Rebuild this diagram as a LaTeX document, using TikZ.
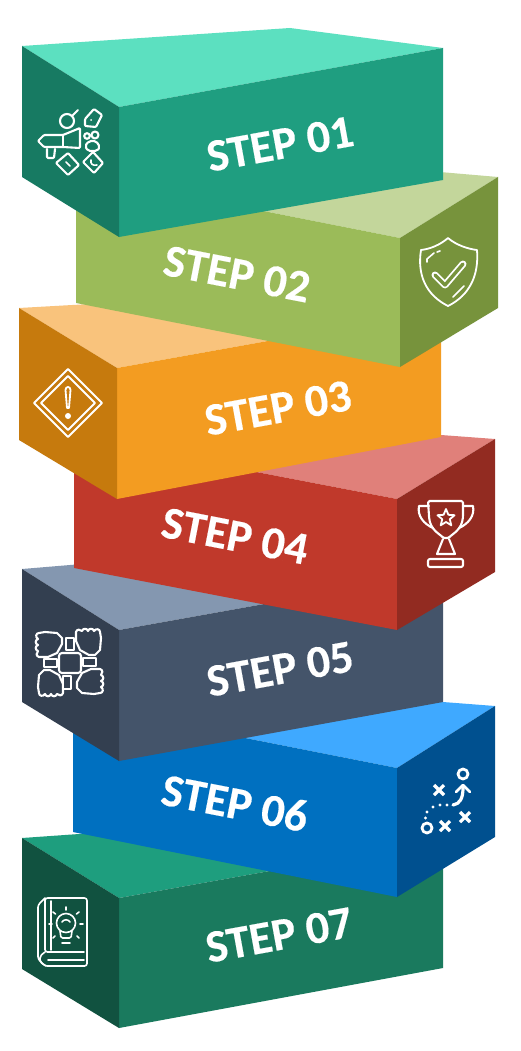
\documentclass[tikz,border=0pt]{standalone}
\usepackage{fontspec}
\setmainfont{Carlito}
\newfontfamily\stepfont[UprightFont={* Bold},FakeBold=0.35]{Carlito}
\definecolor{aF}{HTML}{1F9E80}\definecolor{aT}{HTML}{5CE0C0}\definecolor{aS}{HTML}{177A62}
\definecolor{bF}{HTML}{9BBB59}\definecolor{bT}{HTML}{C3D69B}\definecolor{bS}{HTML}{77933C}
\definecolor{cF}{HTML}{F39C21}\definecolor{cT}{HTML}{F9C37C}\definecolor{cS}{HTML}{C67A0D}
\definecolor{dF}{HTML}{C0392B}\definecolor{dT}{HTML}{E0807A}\definecolor{dS}{HTML}{922B21}
\definecolor{eF}{HTML}{44546A}\definecolor{eT}{HTML}{8497B0}\definecolor{eS}{HTML}{333F50}
\definecolor{fF}{HTML}{0070C0}\definecolor{fT}{HTML}{3FA9FF}\definecolor{fS}{HTML}{00508F}
\definecolor{gF}{HTML}{1A7A5E}\definecolor{gT}{HTML}{1E9E7E}\definecolor{gS}{HTML}{115240}
\tikzset{
  steplabel/.style={text=white,font=\fontsize{46}{46}\stepfont,inner sep=0pt},
  icon/.style={draw=white,line width=2.1pt,line join=round,line cap=round,fill=none},
  iconthin/.style={icon,line width=1.6pt}
}
\newcommand{\myfist}[3]{\begin{scope}[shift={(#1,#2)},rotate=#3]
  \draw[icon] (-5,-12) -- (7,-11) -- (12,-6) -- (12,0) -- (7,9) -- (-2,13) -- (-11,13)
     .. controls (-14,12) and (-14,9) .. (-12,7)
     .. controls (-15,6) and (-15,2) .. (-12,1)
     .. controls (-15,0) and (-15,-4) .. (-12,-5)
     .. controls (-15,-7) and (-14,-11) .. (-11,-11) -- cycle;
\end{scope}}
\newcommand{\mycross}[2]{\draw[icon,line width=3.2pt,line cap=butt] (#1-5,#2-5) -- (#1+5,#2+5) (#1-5,#2+5) -- (#1+5,#2-5);}
\begin{document}
\begin{tikzpicture}[x=1pt,y=-1pt]
\useasboundingbox (0,0) rectangle (521,1051);
\fill[white] (0,0) rectangle (521,1051);
% ---- box 7
\fill[gT] (22,838) -- (119,898) -- (443,840) -- (250,822) -- cycle;
\fill[gF] (119,898) -- (443,840) -- (443,968) -- (119,1028) -- cycle;
\fill[gS] (22,838) -- (119,898) -- (119,1028) -- (22,969) -- cycle;
\node[steplabel,rotate=10.3] (s7) at (279,935) {STEP 07};
\draw[iconthin,rounded corners=2.5pt] (84,952) -- (45,952) -- (45,898) -- (87,898) -- (87,966) -- (45,966) -- (38,959) -- (38,905) -- (45,898);
\draw[iconthin,rounded corners=2pt] (45,952) -- (40,956) -- (40,962) -- (46,966);
\draw[iconthin] (48,960) -- (84,960) (51,901) -- (51,950);
\draw[iconthin] (66,923) circle (9.5);
\draw[iconthin,rounded corners=1.5pt] (60,931) -- (61,938) -- (71,938) -- (72,931);
\draw[iconthin] (62,943) -- (70,943) (62,922) .. controls (64,919) and (68,919) .. (70,922);
\draw[iconthin] (66,907) -- (66,910) (53,912) -- (55.5,914) (79,912) -- (76.5,914) (49,924) -- (52,924) (83,924) -- (80,924) (55,936) -- (53,938) (77,936) -- (79,938);
% ---- box 6
\fill[fT] (73,704) -- (397,768) -- (495,706) -- (443,702) -- (300,690) -- cycle;
\fill[fF] (73,704) -- (397,768) -- (397,897) -- (73,832) -- cycle;
\fill[fS] (397,768) -- (495,706) -- (495,837) -- (397,897) -- cycle;
\node[steplabel,rotate=-11] (s6) at (235,803) {STEP 06};
\draw[icon,line width=2.8pt] (463,774) circle (5);
\draw[icon,line width=2.8pt] (427,828) circle (5);
\draw[icon,line width=3.2pt] (453,805) .. controls (460,804) and (463,798) .. (463,788);
\draw[icon,line width=2.8pt] (456,792) -- (463,785) -- (470,792);
\mycross{439}{790}\mycross{465}{817}\mycross{445}{826}
\foreach \px/\py in {447/805,440/805,433/807,427/812,425.5/818}{\fill[white] (\px,\py) circle (1.6);}
% ---- box 5
\fill[eT] (22,569) -- (119,630) -- (443,572) -- (250,550) -- cycle;
\fill[eF] (119,630) -- (443,572) -- (443,702) -- (119,761) -- cycle;
\fill[eS] (22,569) -- (119,630) -- (119,761) -- (22,702) -- cycle;
\node[steplabel,rotate=10.3] (s5) at (280,669) {STEP 05};
\myfist{50}{644}{0}
\myfist{89}{643}{-90}
\myfist{89}{682}{-180}
\myfist{50}{682}{-270}
\draw[iconthin,fill=eS] (66,638) rectangle (74,650) (63,676) rectangle (71,689) (44,659) rectangle (57,667) (83,658) rectangle (96,666);
\draw[icon,rounded corners=3pt,fill=eS] (59,653) rectangle (81,673);
% ---- box 4
\fill[dT] (74,437) -- (397,499) -- (495,439) -- (441,435) -- (300,425) -- cycle;
\fill[dF] (74,437) -- (397,499) -- (397,630) -- (74,568) -- cycle;
\fill[dS] (397,499) -- (495,439) -- (495,572) -- (397,630) -- cycle;
\node[steplabel,rotate=-11] (s4) at (235,536) {STEP 04};
\draw[icon,rounded corners=1.5pt] (428,501) -- (463,501) -- (463,516) .. controls (462,530) and (452,534) .. (449,538) -- (443,538) .. controls (440,534) and (430,530) .. (429,516) -- cycle;
\draw[icon] (429,506) -- (419,506) .. controls (417,516) and (424,524) .. (433,528);
\draw[icon] (463,506) -- (473,506) .. controls (475,516) and (468,524) .. (459,528);
\draw[icon] (443,539) -- (437,554) -- (455,554) -- (449,539);
\draw[icon,rounded corners=2pt] (428,559) rectangle (463,567);
\draw[icon,line width=1.8pt] (446,509) -- (448.4,514.8) -- (454.6,515.2) -- (449.8,519.2) -- (451.3,525.3) -- (446,522) -- (440.7,525.3) -- (442.2,519.2) -- (437.4,515.2) -- (443.6,514.8) -- cycle;
% ---- box 3
\fill[cT] (19,308) -- (117,368) -- (441,310) -- (250,295) -- cycle;
\fill[cF] (117,368) -- (441,310) -- (441,437) -- (117,499) -- cycle;
\fill[cS] (19,308) -- (117,368) -- (117,499) -- (19,440) -- cycle;
\node[steplabel,rotate=10.3] (s3) at (278,408) {STEP 03};
\draw[icon,line width=1.8pt] (68,369) -- (102,403) -- (68,437) -- (34,403) -- cycle;
\draw[icon,line width=1.8pt] (68,376) -- (95,403) -- (68,430) -- (41,403) -- cycle;
\draw[icon,line width=1.8pt] (65.5,390) .. controls (65.5,386) and (70.5,386) .. (70.5,390) -- (69,408) -- (67,408) -- cycle;
\fill[white] (68,416) circle (3);
% ---- box 2
\fill[bT] (76,174) -- (400,238) -- (498,177) -- (300,160) -- cycle;
\fill[bF] (76,174) -- (400,238) -- (400,367) -- (76,303) -- cycle;
\fill[bS] (400,238) -- (498,177) -- (498,308) -- (400,367) -- cycle;
\node[steplabel,rotate=-11] (s2) at (237,274) {STEP 02};
\draw[icon,line width=1.8pt] (448,238) .. controls (456,245) and (468,249) .. (477,250) .. controls (479,275) and (470,295) .. (448,306) .. controls (426,295) and (417,275) .. (421,250) .. controls (430,249) and (440,245) .. cycle;
\draw[iconthin] (427,262) -- (427,259) -- (434,253) (437,252) -- (440,251);
\draw[iconthin] (453,297) -- (464,286);
\draw[icon,line width=7pt] (435,275) -- (445,285) -- (463,264);
\draw[bS,line width=3.4pt,line cap=round,line join=round] (435,275) -- (445,285) -- (463,264);
% ---- box 1
\fill[aT] (22,46) -- (119,107) -- (443,48) -- (290,28) -- cycle;
\fill[aF] (119,107) -- (443,48) -- (443,180) -- (119,237) -- cycle;
\fill[aS] (22,46) -- (119,107) -- (119,237) -- (22,177) -- cycle;
\node[steplabel,rotate=10.3] (s1) at (280,144) {STEP 01};
\draw[icon] (67,121) circle (7) (72,116) -- (78,110);
\draw[icon,rounded corners=1pt] (85,119) -- (94,109) -- (102,115) -- (96,127) -- (85,126) -- cycle;
\fill[white] (91,120) circle (1);
\draw[icon,rounded corners=1pt] (44,135) -- (63,135) -- (80,128) -- (80,148) -- (63,147) -- (44,147) -- (38,141) -- cycle;
\draw[icon] (63,135) -- (63,147);
\draw[icon,rounded corners=1pt] (47,149) -- (47,158) -- (54,158) -- (55,149);
\draw[icon] (95,135) circle (3.5) (87,136) circle (2.8);
\draw[icon,rounded corners=2pt] (85,146) -- (89,141) -- (96,141) -- (100,147) -- (97,151) -- (88,151) -- cycle;
\draw[icon,rounded corners=1pt] (56,163) -- (68,153) -- (79,165) -- (68,175) -- cycle;
\draw[iconthin] (66,162) -- (70,166);
\draw[icon,rounded corners=1pt] (83,162) -- (93,152) -- (103,163) -- (94,173) -- cycle;
\draw[iconthin] (91,160) .. controls (90,164) and (93,166) .. (97,165);
\end{tikzpicture}
\end{document}
